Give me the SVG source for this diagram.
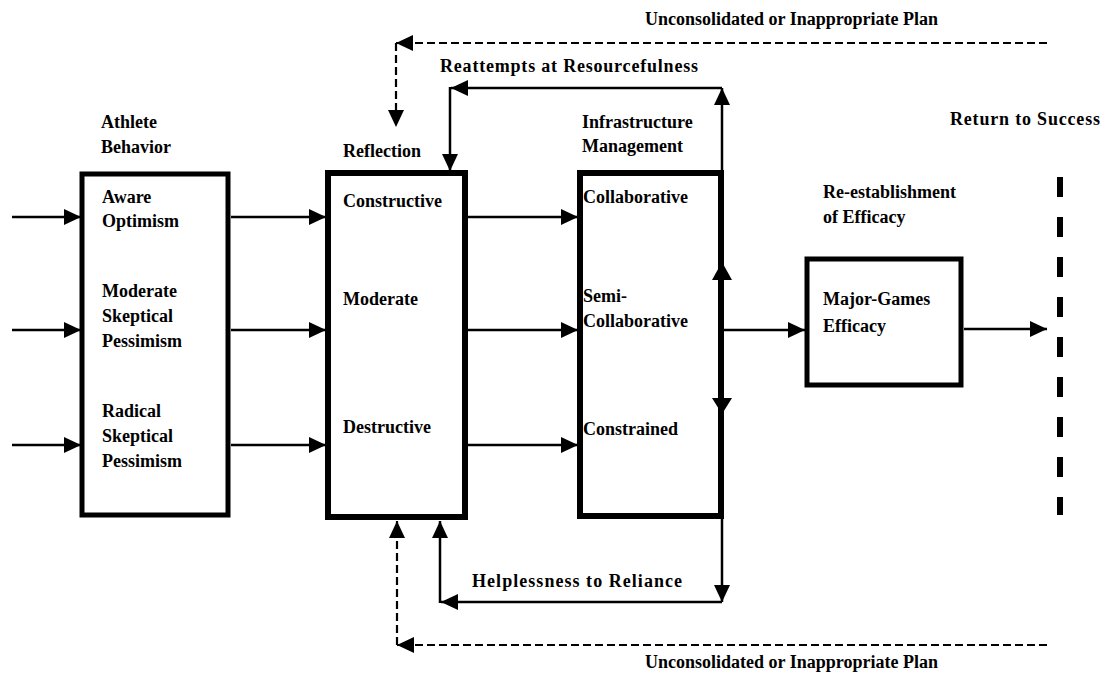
<svg xmlns="http://www.w3.org/2000/svg" width="1112" height="679" viewBox="0 0 1112 679">
<style>
text{font-family:"Liberation Serif","Times New Roman",serif;font-weight:bold;font-size:18px;fill:#000}
.box{fill:#fff;stroke:#000}
.ln{stroke:#000;stroke-width:2.5;fill:none}
.dash{stroke:#000;stroke-width:2.2;fill:none;stroke-dasharray:8 4}
</style>
<defs>
<marker id="ah" markerUnits="userSpaceOnUse" markerWidth="18" markerHeight="16" refX="17" refY="8" orient="auto" viewBox="0 0 18 16">
<path d="M0,0 L17,8 L0,16 z" fill="#000"/>
</marker>
</defs>
<rect width="1112" height="679" fill="#fff"/>

<g id="athlete">
<text x="101" y="128">Athlete</text>
<text x="101" y="153">Behavior</text>
<rect class="box" x="82" y="174" width="146" height="341" stroke-width="5"/>
<text x="102" y="203">Aware</text>
<text x="102" y="227">Optimism</text>
<text x="102" y="297">Moderate</text>
<text x="102" y="322">Skeptical</text>
<text x="102" y="347">Pessimism</text>
<text x="102" y="417">Radical</text>
<text x="102" y="442">Skeptical</text>
<text x="102" y="467">Pessimism</text>
</g>

<g id="reflection">
<text x="343" y="157">Reflection</text>
<rect class="box" x="328" y="173" width="137" height="344" stroke-width="6"/>
<text x="343" y="207">Constructive</text>
<text x="343" y="305">Moderate</text>
<text x="343" y="433">Destructive</text>
</g>

<g id="infrastructure">
<text x="582" y="128">Infrastructure</text>
<text x="582" y="152">Management</text>
<rect class="box" x="580" y="173" width="141" height="343" stroke-width="6"/>
<text x="583" y="203">Collaborative</text>
<text x="583" y="302">Semi-</text>
<text x="583" y="327">Collaborative</text>
<text x="583" y="435">Constrained</text>
</g>

<g id="efficacy">
<text x="823" y="198">Re-establishment</text>
<text x="823" y="223">of Efficacy</text>
<rect class="box" x="807" y="259" width="154" height="126" stroke-width="5"/>
<text x="823" y="305">Major-Games</text>
<text x="823" y="332">Efficacy</text>
</g>

<g id="success">
<text x="950" y="125" textLength="150" lengthAdjust="spacing">Return to Success</text>
<line x1="1060" y1="177" x2="1060" y2="515" stroke="#000" stroke-width="6" stroke-dasharray="20 20"/>
</g>

<g id="labels">
<text x="645" y="25" textLength="293" lengthAdjust="spacing">Unconsolidated or Inappropriate Plan</text>
<text x="440" y="72" textLength="258" lengthAdjust="spacing">Reattempts at Resourcefulness</text>
<text x="472" y="587" textLength="210" lengthAdjust="spacing">Helplessness to Reliance</text>
<text x="645" y="668" textLength="293" lengthAdjust="spacing">Unconsolidated or Inappropriate Plan</text>
</g>

<g id="connectors">
<line class="ln" x1="12" y1="217" x2="81" y2="217" marker-end="url(#ah)"/>
<line class="ln" x1="12" y1="330" x2="81" y2="330" marker-end="url(#ah)"/>
<line class="ln" x1="12" y1="445" x2="81" y2="445" marker-end="url(#ah)"/>
<line class="ln" x1="231" y1="217" x2="326" y2="217" marker-end="url(#ah)"/>
<line class="ln" x1="231" y1="330" x2="326" y2="330" marker-end="url(#ah)"/>
<line class="ln" x1="231" y1="445" x2="326" y2="445" marker-end="url(#ah)"/>
<line class="ln" x1="468" y1="217" x2="578" y2="217" marker-end="url(#ah)"/>
<line class="ln" x1="468" y1="330" x2="578" y2="330" marker-end="url(#ah)"/>
<line class="ln" x1="468" y1="445" x2="578" y2="445" marker-end="url(#ah)"/>
<line class="ln" x1="724" y1="330" x2="805" y2="330" marker-end="url(#ah)"/>
<line class="ln" x1="964" y1="329" x2="1047" y2="329" marker-end="url(#ah)"/>
<polygon points="722,262 712,280 732,280" fill="#000"/>
<polygon points="722,414 712,398 732,398" fill="#000"/>
<line class="ln" x1="722" y1="171" x2="722" y2="88" marker-end="url(#ah)"/>
<line class="ln" x1="722" y1="88" x2="451" y2="88" marker-end="url(#ah)"/>
<line class="ln" x1="450" y1="87" x2="450" y2="171" marker-end="url(#ah)"/>
<line class="ln" x1="722" y1="518" x2="722" y2="602" marker-end="url(#ah)"/>
<line class="ln" x1="722" y1="602" x2="441" y2="602" marker-end="url(#ah)"/>
<line class="ln" x1="440" y1="603" x2="440" y2="521" marker-end="url(#ah)"/>
<line class="dash" x1="1047" y1="43" x2="396" y2="43" marker-end="url(#ah)"/>
<line class="dash" x1="396" y1="43" x2="396" y2="127" marker-end="url(#ah)"/>
<line class="dash" x1="1047" y1="645" x2="397" y2="645" marker-end="url(#ah)"/>
<line class="dash" x1="397" y1="645" x2="397" y2="521" marker-end="url(#ah)"/>
</g>
</svg>
